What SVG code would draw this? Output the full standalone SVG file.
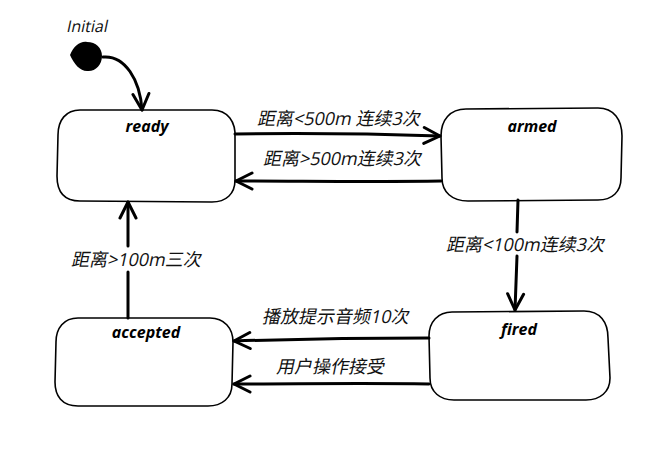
<svg xmlns="http://www.w3.org/2000/svg" width="661" height="460" viewBox="0 0 661 460">
<defs>
<marker id="v" viewBox="0 0 20 20" refX="18" refY="10" markerWidth="20" markerHeight="20" markerUnits="userSpaceOnUse" orient="auto">
<path d="M2 2 L18 10 L2 18" fill="none" stroke="#000" stroke-width="3" stroke-linecap="round" stroke-linejoin="round"/>
</marker>
<style>
.box{fill:#fff;stroke:#000;stroke-width:1.6}
.name{font-family:"Open Sans","Noto Sans",sans-serif;font-weight:bold;font-style:italic;font-size:16px;fill:#000;text-anchor:middle}
.lbl{font-family:"Open Sans","Noto Sans CJK SC",sans-serif;font-style:normal;font-size:18px;fill:#111}
.c{fill:none;stroke:#000;stroke-width:3;stroke-linecap:round;marker-end:url(#v)}
</style>
</defs>
<rect width="661" height="460" fill="#fff"/>
<g id="initial">
<text class="lbl" style="font-size:16px" transform="translate(66 32) skewX(-12)">Initial</text>
<path d="M70 55 C74 46 80 41 87 42 C96 42 102 48 102 56 C102 65 95 72 87 71 C80 71 74 64 70 55 Z" fill="#000"/>
</g>
<g id="ready">
<path class="box" d="M80 110 L212 110 C228 110 236 122 235 138 L235 180 C235 194 226 202 212 202 L80 201 C64 201 57 192 57 176 L58 135 C58 120 66 110 80 110 Z"/>
<text x="147" y="132" class="name">ready</text>
</g>
<g id="armed">
<path class="box" d="M466 109 L598 108 C614 108 622 120 622 136 L621 178 C621 192 612 200 598 200 L468 201 C452 201 442 192 442 178 L441 136 C441 120 450 109 466 109 Z"/>
<text x="532" y="132" class="name">armed</text>
</g>
<g id="fired">
<path class="box" d="M452 312 L584 311 C600 311 608 322 608 338 L610 378 C610 392 600 400 586 400 L454 400 C440 400 430 392 430 378 L429 336 C429 322 438 312 452 312 Z"/>
<text x="519" y="335" class="name">fired</text>
</g>
<g id="accepted">
<path class="box" d="M78 318 L210 318 C224 318 233 328 233 342 L232 384 C232 398 222 406 208 406 L78 406 C62 406 55 396 55 382 L56 342 C56 328 64 318 78 318 Z"/>
<text x="146" y="338" class="name">accepted</text>
</g>
<g id="connectors">
<path class="c" d="M103 57 C125 55 140 80 142 110"/>
<path class="c" d="M235 134 C300 133 380 134 440 136"/>
<path class="c" d="M441 181 C380 182 300 181 236 181"/>
<path class="c" d="M518 200 L517 232 M517 256 L515 310"/>
<path class="c" d="M429 338 C360 338 300 339 234 341"/>
<path class="c" d="M429 384 C360 383 300 384 234 384"/>
<path class="c" d="M128 318 L128 272 M128 246 L128 202"/>
<text class="lbl" transform="translate(257 125) skewX(-12)">距离&lt;500m 连续3次</text>
<text class="lbl" transform="translate(263 165) skewX(-12)">距离&gt;500m连续3次</text>
<text class="lbl" transform="translate(446 251) skewX(-12)">距离&lt;100m连续3次</text>
<text class="lbl" transform="translate(71 266) skewX(-12)">距离&gt;100m三次</text>
<text class="lbl" transform="translate(262 323) skewX(-12)">播放提示音频10次</text>
<text class="lbl" transform="translate(276 373) skewX(-12)">用户操作接受</text>
</g>
</svg>
